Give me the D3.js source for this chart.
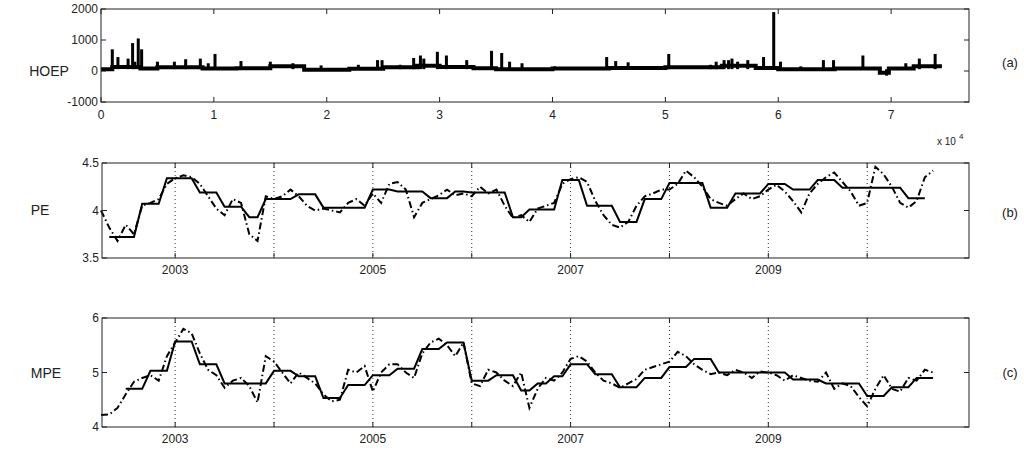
<!DOCTYPE html>
<html><head><meta charset="utf-8">
<script src="https://cdn.jsdelivr.net/npm/d3@7"></script>
<style>
body{margin:0;background:#fff}
text{font-family:Arial,"Liberation Sans",sans-serif;fill:#222}
</style></head><body>
<div id="container"></div>
<script>
// HOEP baseline levels [x (thousand hours), price]
const hoepBase = [[0,60],[1,130],[3.5,80],[5,120],[9,80],[12,90],[15,150],[18,40],[22,70],[25,120],[28,170],[30,130],[33,90],[35,60],[40,80],[45,100],[50,120],[55,170],[58,100],[60,60],[65,80],[69,-60],[69.8,80],[72,150],[74.5,150]];
// HOEP spikes [x, price]
const hoepSpikes = [[1.0,700],[1.5,450],[2.4,400],[2.8,900],[3.0,300],[3.3,1050],[3.6,700],[5.0,300],[6.5,300],[7.5,380],[8.8,400],[9.5,250],[10.1,550],[12.4,320],[15.0,300],[17.0,250],[19.5,180],[22.8,200],[24.5,350],[24.9,350],[26.5,200],[27.7,420],[28.3,500],[28.6,400],[29.8,620],[30.6,500],[32.4,350],[34.6,650],[35.5,580],[36.2,300],[37.3,250],[40.2,150],[44.8,450],[45.6,320],[46.7,280],[50.3,550],[54,200],[54.5,300],[55.2,350],[55.6,350],[55.9,400],[56.4,300],[57.3,350],[58.7,450],[59.6,1900],[60.2,300],[62,150],[64,350],[64.9,350],[67.5,500],[69.6,-150],[71.3,250],[72.5,400],[73.9,550]];
const hoepXTicks = [0,1,2,3,4,5,6,7];   // x 10^4
const hoepYTicks = [-1000,0,1000,2000];

// monthly series; first month given by start [year, month]
const peSolidStart = [2002,5];
const peSolid = [3.72,3.72,3.72,3.72,4.07,4.07,4.07,4.34,
 4.34,4.34,4.34,4.19,4.19,4.19,4.04,4.04,4.04,3.93,3.93,4.12,
 4.12,4.12,4.12,4.17,4.17,4.17,4.03,4.03,4.03,4.03,4.03,4.03,
 4.22,4.22,4.22,4.20,4.20,4.20,4.20,4.13,4.13,4.13,4.20,4.20,
 4.19,4.19,4.19,4.19,4.19,3.93,3.93,4.01,4.01,4.01,4.01,4.32,
 4.32,4.32,4.05,4.05,4.05,4.05,3.88,3.88,3.88,4.12,4.12,4.12,
 4.29,4.29,4.29,4.29,4.29,4.03,4.03,4.03,4.18,4.18,4.18,4.18,
 4.28,4.28,4.28,4.22,4.22,4.22,4.32,4.32,4.32,4.24,4.24,4.24,
 4.24,4.24,4.24,4.24,4.24,4.13,4.13,4.13];
const peDashStart = [2002,4];
const peDash = [4.0,3.82,3.68,3.85,3.75,4.05,4.08,4.12,4.28,
 4.34,4.37,4.35,4.28,4.15,4.02,3.95,4.12,4.08,3.75,3.68,4.15,
 4.12,4.15,4.22,4.15,4.05,4.0,4.02,4.0,3.98,4.08,4.12,4.05,
 4.18,4.08,4.28,4.30,4.22,3.93,4.08,4.12,4.16,4.22,4.16,4.18,
 4.15,4.25,4.18,4.22,4.05,3.92,3.95,3.88,4.02,4.05,4.08,4.28,
 4.33,4.35,4.30,4.10,3.95,3.85,3.82,3.88,4.05,4.15,4.18,4.22,
 4.22,4.28,4.42,4.35,4.25,4.12,4.08,4.05,4.12,4.18,4.12,4.15,
 4.22,4.27,4.20,4.10,3.98,4.18,4.28,4.35,4.40,4.30,4.20,4.05,
 4.08,4.46,4.38,4.25,4.08,4.03,4.10,4.35,4.42];
const mpeSolidStart = [2002,7];
const mpeSolid = [4.7,4.7,4.7,5.03,5.03,5.03,
 5.57,5.57,5.57,5.15,5.15,5.15,4.8,4.8,4.8,4.8,4.8,4.8,
 5.03,5.03,5.03,4.93,4.93,4.93,4.53,4.53,4.53,4.77,4.77,4.77,
 4.95,4.95,4.95,5.07,5.07,5.07,5.43,5.43,5.43,5.55,5.55,5.55,
 4.85,4.85,4.85,4.95,4.95,4.95,4.67,4.67,4.8,4.8,4.93,4.93,
 5.15,5.15,5.15,4.97,4.97,4.97,4.73,4.73,4.73,4.9,4.9,4.9,
 5.1,5.1,5.1,5.25,5.25,5.25,5.0,5.0,5.0,5.0,5.0,5.0,
 5.0,5.0,5.0,4.87,4.87,4.87,4.87,4.8,4.8,4.8,4.8,4.8,
 4.57,4.57,4.57,4.73,4.73,4.73,4.9,4.9,4.9];
const mpeDashStart = [2002,4];
const mpeDash = [4.22,4.23,4.35,4.6,4.83,4.9,4.95,4.85,5.3,
 5.55,5.8,5.72,5.35,5.05,4.95,4.72,4.85,4.9,4.75,4.45,5.3,
 5.2,5.0,4.8,5.0,4.9,4.8,4.6,4.47,4.5,5.05,5.0,5.12,
 4.65,5.0,5.15,5.15,5.0,4.9,5.35,5.55,5.62,5.5,5.3,5.55,
 4.8,4.75,5.05,5.0,4.85,4.75,5.0,4.35,4.7,4.9,4.85,5.0,
 5.25,5.3,5.2,5.0,4.85,4.8,4.72,4.8,4.88,5.05,5.1,5.15,
 5.2,5.38,5.3,5.15,5.05,4.97,5.0,4.95,5.05,5.0,4.9,5.02,
 5.0,4.95,4.85,4.95,4.9,4.85,4.83,5.0,4.7,4.8,4.75,4.55,
 4.38,4.7,4.95,4.7,4.65,4.9,4.85,5.05,5.0];
const yearTicks = [2003,2004,2005,2006,2007,2008,2009,2010];
const yearLabels = [2003,2005,2007,2009];
const peTicks = [3.5,4,4.5];
const mpeTicks = [4,5,6];

const w = 1024, h = 453;
const svg = d3.select("#container").append("svg").attr("width", w).attr("height", h);

function frame(g, x0, x1, y0, y1) {
  g.append("rect").attr("x", x0).attr("y", y0).attr("width", x1 - x0).attr("height", y1 - y0)
   .attr("fill", "none").attr("stroke", "#222").attr("stroke-width", 1);
}
function yTicks(g, y, ticks, x0, x1) {
  ticks.forEach(t => {
    g.append("line").attr("x1", x0).attr("x2", x0 + 5).attr("y1", y(t)).attr("y2", y(t)).attr("stroke", "#222");
    g.append("line").attr("x1", x1).attr("x2", x1 - 5).attr("y1", y(t)).attr("y2", y(t)).attr("stroke", "#222");
    g.append("text").attr("x", x0 - 3).attr("y", y(t) + 4).attr("text-anchor", "end")
     .attr("font-size", 12).text(t);
  });
}

// ---- panel (a)
const xa = d3.scaleLinear().domain([0, 76.9]).range([101, 969]);
const ya = d3.scaleLinear().domain([-1000, 2000]).range([102, 9]);
const ga = svg.append("g");
ga.append("path").datum(hoepBase)
  .attr("d", d3.line().x(d => xa(d[0])).y(d => ya(d[1])).curve(d3.curveStepAfter))
  .attr("fill", "none").attr("stroke", "#000").attr("stroke-width", 4);
ga.selectAll(".sp").data(hoepSpikes).enter().append("rect")
  .attr("x", d => xa(d[0]) - 1.5).attr("width", 3)
  .attr("y", d => Math.min(ya(d[1]), ya(60)))
  .attr("height", d => Math.abs(ya(d[1]) - ya(60)))
  .attr("fill", "#000");
frame(ga, 101, 969, 9, 102);
hoepXTicks.forEach(t => {
  const px = xa(t * 10);
  ga.append("line").attr("x1", px).attr("x2", px).attr("y1", 102).attr("y2", 97).attr("stroke", "#222");
  ga.append("line").attr("x1", px).attr("x2", px).attr("y1", 9).attr("y2", 14).attr("stroke", "#222");
  ga.append("text").attr("x", px).attr("y", 119).attr("text-anchor", "middle").attr("font-size", 12).text(t);
});
yTicks(ga, ya, hoepYTicks, 101, 969);
ga.append("text").attr("x", 937).attr("y", 145).attr("font-size", 10).text("x 10");
ga.append("text").attr("x", 959).attr("y", 139).attr("font-size", 8).text("4");

// ---- time panels
function timePanel(y0, y1, domain, ticks, solid, solidStart, dash, dashStart) {
  const x = d3.scaleLinear().domain([2002.26, 2011.03]).range([102, 969]);
  const y = d3.scaleLinear().domain(domain).range([y1, y0]);
  const g = svg.append("g");
  yearTicks.forEach(t => {
    g.append("line").attr("x1", x(t)).attr("x2", x(t)).attr("y1", y0).attr("y2", y1)
     .attr("stroke", "#333").attr("stroke-dasharray", "1,3");
    g.append("line").attr("x1", x(t)).attr("x2", x(t)).attr("y1", y1).attr("y2", y1 - 5).attr("stroke", "#222");
    g.append("line").attr("x1", x(t)).attr("x2", x(t)).attr("y1", y0).attr("y2", y0 + 5).attr("stroke", "#222");
  });
  yearLabels.forEach(t => g.append("text").attr("x", x(t)).attr("y", y1 + 16)
     .attr("text-anchor", "middle").attr("font-size", 12).text(t));
  const toPts = (arr, st) => arr.map((v, i) => [st[0] + (st[1] - 1 + i) / 12, v]);
  const line = d3.line().x(d => x(d[0])).y(d => y(d[1]));
  g.append("path").datum(toPts(dash, dashStart)).attr("d", line)
   .attr("fill", "none").attr("stroke", "#000").attr("stroke-width", 2).attr("stroke-dasharray", "7,3,1.5,3");
  g.append("path").datum(toPts(solid, solidStart)).attr("d", line)
   .attr("fill", "none").attr("stroke", "#000").attr("stroke-width", 2);
  frame(g, 102, 969, y0, y1);
  yTicks(g, y, ticks, 102, 969);
}
timePanel(163, 258, [3.5, 4.5], peTicks, peSolid, peSolidStart, peDash, peDashStart);
timePanel(318, 427, [4, 6], mpeTicks, mpeSolid, mpeSolidStart, mpeDash, mpeDashStart);

// labels
[["HOEP", 49, 76], ["PE", 40, 215], ["MPE", 46, 378]].forEach(d =>
  svg.append("text").attr("x", d[1]).attr("y", d[2]).attr("text-anchor", "middle").attr("font-size", 14).text(d[0]));
[["(a)", 1010, 67], ["(b)", 1010, 217], ["(c)", 1010, 377]].forEach(d =>
  svg.append("text").attr("x", d[1]).attr("y", d[2]).attr("text-anchor", "middle").attr("font-size", 13).text(d[0]));
</script></body></html>
